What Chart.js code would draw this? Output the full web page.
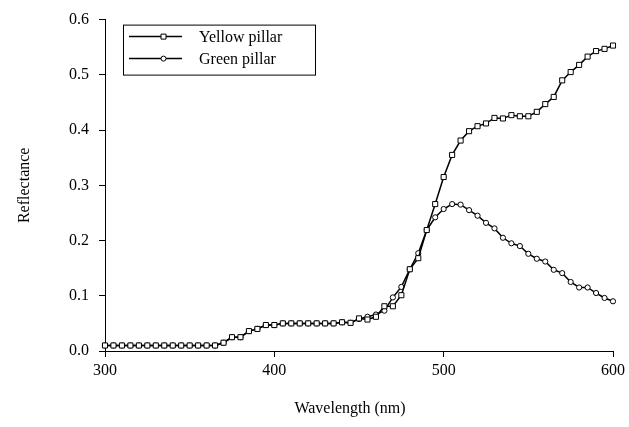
<!DOCTYPE html>
<html>
<head>
<meta charset="utf-8">
<script src="https://cdn.jsdelivr.net/npm/chart.js@4/dist/chart.umd.min.js"></script>
<style>
  html, body { margin: 0; padding: 0; background: #fff; }
  #wrap { width: 629px; height: 427px; }
</style>
</head>
<body>
<div id="wrap"><canvas id="chart" width="629" height="427"></canvas></div>
<script>
'use strict';

// ─── Data ─────────────────────────────────────────────────────────────────────

const wavelengths = [
  300, 305, 310, 315, 320, 325, 330, 335, 340, 345, 350, 355, 360, 365,
  370, 375, 380, 385, 390, 395, 400, 405, 410, 415, 420, 425, 430, 435,
  440, 445, 450, 455, 460, 465, 470, 475, 480, 485, 490, 495, 500, 505,
  510, 515, 520, 525, 530, 535, 540, 545, 550, 555, 560, 565, 570, 575,
  580, 585, 590, 595, 600,
];

const yellowPillar = [
  0.010, 0.010, 0.010, 0.010, 0.010, 0.010, 0.010, 0.010, 0.010, 0.010, 0.010, 0.010, 0.010, 0.010,
  0.015, 0.025, 0.025, 0.036, 0.040, 0.047, 0.047, 0.050, 0.050, 0.050, 0.050, 0.050, 0.050, 0.050,
  0.052, 0.051, 0.059, 0.057, 0.062, 0.081, 0.081, 0.101, 0.148, 0.168, 0.219, 0.266, 0.315, 0.355,
  0.381, 0.398, 0.407, 0.412, 0.422, 0.421, 0.427, 0.425, 0.425, 0.433, 0.447, 0.460, 0.490, 0.505,
  0.518, 0.533, 0.543, 0.547, 0.553,
];

const greenPillar = [
  0.010, 0.010, 0.010, 0.010, 0.010, 0.010, 0.010, 0.010, 0.010, 0.010, 0.010, 0.010, 0.010, 0.010,
  0.015, 0.025, 0.025, 0.036, 0.040, 0.047, 0.047, 0.050, 0.050, 0.050, 0.050, 0.050, 0.050, 0.050,
  0.052, 0.051, 0.058, 0.062, 0.066, 0.073, 0.097, 0.116, 0.148, 0.177, 0.219, 0.242, 0.257, 0.266,
  0.265, 0.255, 0.245, 0.232, 0.222, 0.205, 0.195, 0.190, 0.176, 0.167, 0.162, 0.147, 0.141, 0.125,
  0.115, 0.115, 0.105, 0.096, 0.090,
];

const xTicks = [300, 400, 500, 600];
const yTicks = [0, 0.1, 0.2, 0.3, 0.4, 0.5, 0.6];

const xTitle = 'Wavelength (nm)';
const yTitle = 'Reflectance';

// ─── Styles ───────────────────────────────────────────────────────────────────

const SERIF = "'Liberation Serif', 'Times New Roman', serif";
const FONT = { family: SERIF, size: 16 };

const toPoints = (ys) => wavelengths.map((x, i) => ({ x, y: ys[i] }));

// boxed legend in the upper left of the plot, like the original figure
const boxLegend = {
  id: 'boxLegend',
  afterDraw(chart) {
    const { ctx, chartArea } = chart;
    const left = chartArea.left + 18;
    const top = chartArea.top + 5;
    const w = 192;
    const h = 50;
    ctx.save();
    ctx.strokeStyle = '#000';
    ctx.lineWidth = 1;
    ctx.strokeRect(left + 0.5, top + 0.5, w, h);

    chart.data.datasets.forEach((ds, i) => {
      const y = top + 12 + i * 22;
      const x0 = left + 6;
      const x1 = left + 59;
      ctx.beginPath();
      ctx.moveTo(x0, y);
      ctx.lineTo(x1, y);
      ctx.lineWidth = 1.5;
      ctx.strokeStyle = '#000';
      ctx.stroke();

      const mx = (x0 + x1) / 2 + 8;
      ctx.lineWidth = 1;
      ctx.fillStyle = '#fff';
      ctx.beginPath();
      if (ds.pointStyle === 'rect') {
        ctx.rect(mx - 2.5, y - 2.5, 5, 5);
      } else {
        ctx.arc(mx, y, 2.5, 0, Math.PI * 2);
      }
      ctx.fill();
      ctx.stroke();

      ctx.fillStyle = '#000';
      ctx.font = `16px ${SERIF}`;
      ctx.textBaseline = 'middle';
      ctx.fillText(ds.label, left + 76, y + 1);
    });
    ctx.restore();
  },
};

// x title sits a little left of the plot centre in the original
const xAxisTitle = {
  id: 'xAxisTitle',
  afterDraw(chart) {
    const { ctx, chartArea } = chart;
    ctx.save();
    ctx.fillStyle = '#000';
    ctx.font = `16px ${SERIF}`;
    ctx.textAlign = 'center';
    ctx.textBaseline = 'middle';
    ctx.fillText(xTitle, (chartArea.left + chartArea.right) / 2 - 9, 409);
    ctx.restore();
  },
};

// ─── Chart ────────────────────────────────────────────────────────────────────

new Chart(document.getElementById('chart'), {
  type: 'line',
  data: {
    datasets: [
      {
        label: 'Yellow pillar',
        data: toPoints(yellowPillar),
        borderColor: '#000',
        borderWidth: 1.5,
        pointStyle: 'rect',
        pointRadius: 3.6,
        pointBorderWidth: 1,
        pointBorderColor: '#000',
        pointBackgroundColor: '#fff',
        tension: 0,
        clip: false,
      },
      {
        label: 'Green pillar',
        data: toPoints(greenPillar),
        borderColor: '#000',
        borderWidth: 1.5,
        pointStyle: 'circle',
        pointRadius: 2.6,
        pointBorderWidth: 1,
        pointBorderColor: '#000',
        pointBackgroundColor: '#fff',
        tension: 0,
        clip: false,
      },
    ],
  },
  options: {
    responsive: false,
    animation: false,
    layout: { padding: { left: 0, right: 13, top: 19, bottom: 0 } },
    plugins: {
      legend: { display: false },
      tooltip: { enabled: false },
    },
    scales: {
      x: {
        type: 'linear',
        min: 300,
        max: 600,
        afterBuildTicks: (scale) => { scale.ticks = xTicks.map((v) => ({ value: v })); },
        afterFit: (scale) => { scale.height = 76; },
        ticks: { font: FONT, color: '#000', padding: 4 },
        grid: { drawOnChartArea: false, drawTicks: true, tickLength: 6, color: '#000' },
        border: { color: '#000', width: 1 },
      },
      y: {
        min: 0,
        max: 0.6,
        afterBuildTicks: (scale) => { scale.ticks = yTicks.map((v) => ({ value: v })); },
        afterFit: (scale) => { scale.width = 105; },
        ticks: { font: FONT, color: '#000', padding: 10, callback: (v) => v.toFixed(1) },
        grid: { drawOnChartArea: false, drawTicks: true, tickLength: 6, color: '#000' },
        border: { color: '#000', width: 1 },
        title: {
          display: true,
          text: yTitle,
          font: FONT,
          color: '#000',
          padding: { top: 15, bottom: 0 },
        },
      },
    },
  },
  plugins: [boxLegend, xAxisTitle],
});
</script>
</body>
</html>
